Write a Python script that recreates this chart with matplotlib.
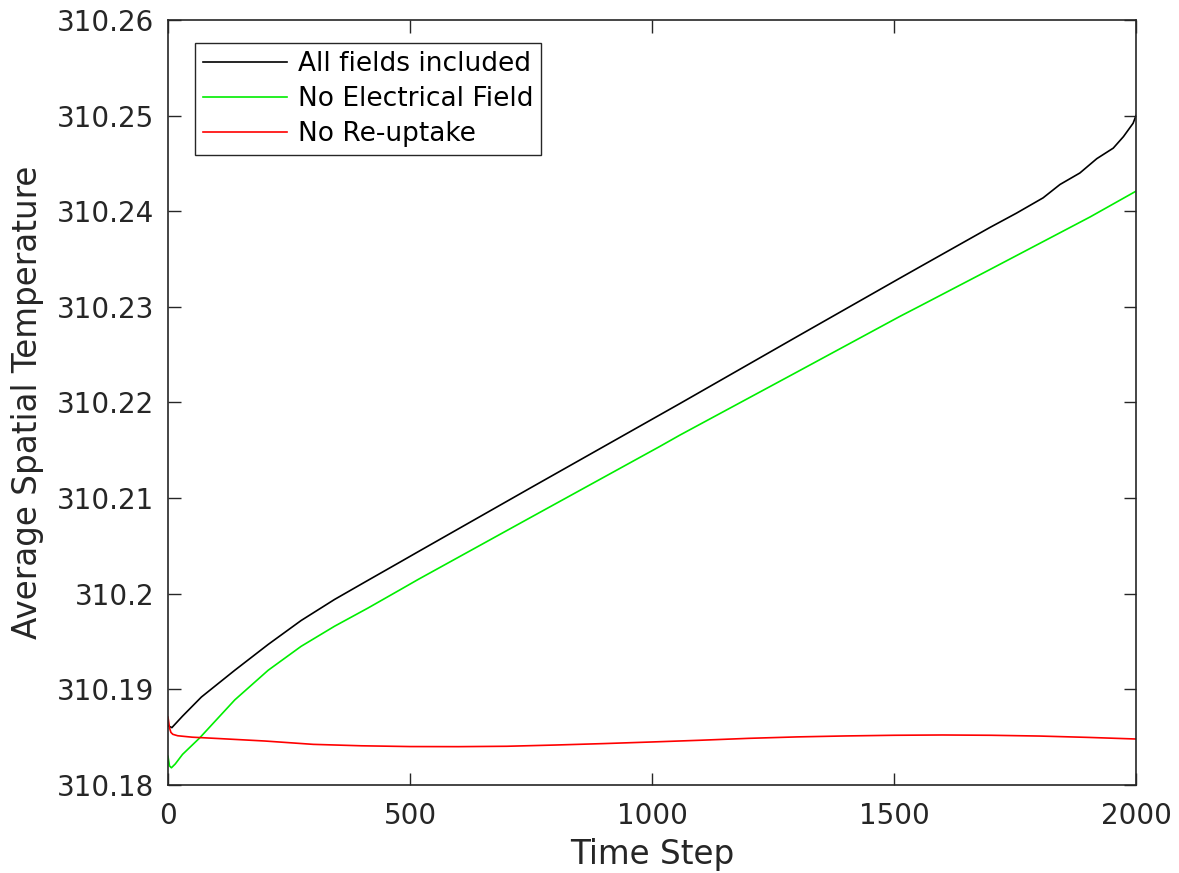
import matplotlib
matplotlib.use("Agg")
import matplotlib.pyplot as plt

plt.rcParams["font.family"] = ["DejaVu Sans"]

# ---- data ----
black_steps = [0, 8, 30, 69, 138, 207, 275, 344, 413, 479, 517, 750, 1016, 1058,
               1300, 1512, 1554, 1698, 1753, 1808, 1843, 1884, 1919, 1953, 1974, 1994, 2000]
black_vals = [310.1862, 310.1860, 310.1872, 310.1892, 310.1920, 310.1947, 310.1972,
              310.1994, 310.2014, 310.2033, 310.2044, 310.2111, 310.2187, 310.2199,
              310.2269, 310.2330, 310.2342, 310.2383, 310.2398, 310.2414, 310.2428,
              310.2440, 310.2455, 310.2466, 310.2478, 310.2492, 310.2500]

green_steps = [0, 3, 7, 15, 30, 65, 138, 207, 275, 344, 413, 479, 517, 750, 1016,
               1058, 1300, 1512, 1554, 1698, 1905, 2000]
green_vals = [310.1830, 310.1820, 310.1818, 310.1822, 310.1832, 310.1849, 310.1889,
              310.1920, 310.1945, 310.1966, 310.1985, 310.2004, 310.2015, 310.2080,
              310.2154, 310.2166, 310.2232, 310.2290, 310.2301, 310.2339, 310.2394,
              310.2421]

red_steps = [0, 3, 6, 10, 20, 50, 100, 200, 300, 400, 500, 600, 700, 800, 900, 1000,
             1100, 1200, 1300, 1400, 1500, 1600, 1700, 1800, 1900, 2000]
red_vals = [310.1871, 310.1860, 310.1855, 310.1853, 310.18515, 310.1850, 310.18487,
            310.1846, 310.18425, 310.1841, 310.18402, 310.18401, 310.18405, 310.18418,
            310.18433, 310.18450, 310.18468, 310.18488, 310.18503, 310.18513, 310.1852,
            310.18523, 310.1852, 310.18512, 310.18498, 310.18481]

series_labels = ["All fields included", "No Electrical Field", "No Re-uptake"]
x_ticks = [0, 500, 1000, 1500, 2000]
y_ticks = [310.18, 310.19, 310.2, 310.21, 310.22, 310.23, 310.24, 310.25, 310.26]
y_tick_labels = ["310.18", "310.19", "310.2", "310.21", "310.22", "310.23",
                 "310.24", "310.25", "310.26"]

# ---- figure ----
dark = "#262626"
fig = plt.figure(figsize=(11.79, 8.73), dpi=100)
ax = fig.add_axes([168 / 1179, 1 - 785 / 873, (1136 - 168) / 1179, (785 - 20) / 873])

ax.plot(black_steps, black_vals, color="black", lw=1.2, label=series_labels[0])
ax.plot(green_steps, green_vals, color="#00ee00", lw=1.2, label=series_labels[1])
ax.plot(red_steps, red_vals, color="#ff0000", lw=1.2, label=series_labels[2])

ax.set_xlim(0, 2000)
ax.set_ylim(310.18, 310.26)
ax.set_xticks(x_ticks)
ax.set_xticklabels([str(t) for t in x_ticks])
ax.set_yticks(y_ticks)
ax.set_yticklabels(y_tick_labels)

ax.tick_params(axis="both", which="both", direction="in", length=9, width=1,
               colors=dark, labelsize=20, top=True, right=True)
ax.tick_params(axis="x", pad=12)
ax.tick_params(axis="y", pad=10)
for s in ax.spines.values():
    s.set_color(dark)
    s.set_linewidth(1.2)

ax.set_xlabel("Time Step", fontsize=23.5, color=dark, labelpad=6)
ax.set_ylabel("Average Spatial Temperature", fontsize=23.5, color=dark, labelpad=9)

leg = ax.legend(loc="upper left", bbox_to_anchor=(27 / 968, 1 - 23 / 765),
                borderaxespad=0, fontsize=19, frameon=True, fancybox=False,
                framealpha=1, edgecolor=dark, handlelength=3.2,
                handletextpad=0.4, borderpad=0.3, labelspacing=0.35)
leg.get_frame().set_linewidth(1.0)

fig.savefig("out.png", dpi=100, facecolor="white")
